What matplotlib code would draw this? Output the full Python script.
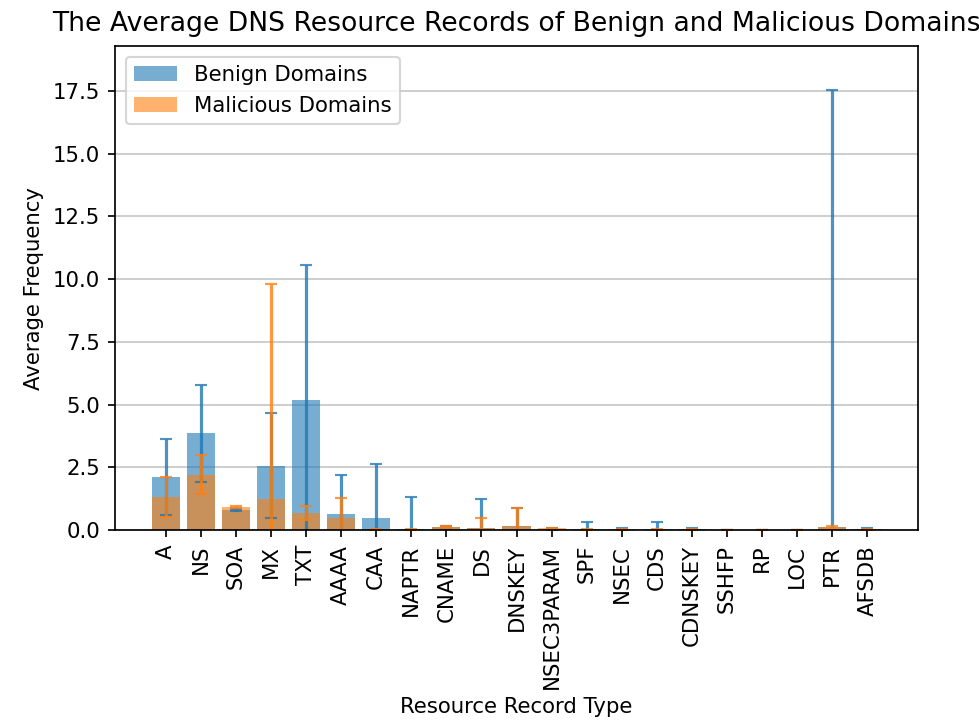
import matplotlib
matplotlib.use('Agg')
import matplotlib.pyplot as plt
import numpy as np

record_types = ['A', 'NS', 'SOA', 'MX', 'TXT', 'AAAA', 'CAA', 'NAPTR', 'CNAME', 'DS',
                'DNSKEY', 'NSEC3PARAM', 'SPF', 'NSEC', 'CDS', 'CDNSKEY', 'SSHFP', 'RP',
                'LOC', 'PTR', 'AFSDB']

# mean / std of record counts per domain
benign_mean = [2.12, 3.86, 0.80, 2.57, 5.17, 0.63, 0.48, 0.03, 0.10, 0.08,
               0.17, 0.05, 0.02, 0.03, 0.02, 0.03, 0.005, 0.003, 0.003, 0.10, 0.05]
benign_std = [1.52, 1.93, 0.03, 2.10, 5.38, 1.56, 2.14, 1.27, 0.05, 1.15,
              0.70, 0.04, 0.31, 0.03, 0.31, 0.04, 0.01, 0.01, 0.01, 17.45, 0.03]
malicious_mean = [1.33, 2.20, 0.92, 1.24, 0.69, 0.47, 0.01, 0.01, 0.12, 0.07,
                  0.15, 0.06, 0.01, 0.02, 0.01, 0.01, 0.003, 0.002, 0.002, 0.10, 0.02]
malicious_std = [0.80, 0.78, 0.03, 8.55, 0.28, 0.80, 0.02, 0.01, 0.04, 0.40,
                 0.72, 0.03, 0.01, 0.02, 0.01, 0.01, 0.005, 0.005, 0.005, 0.05, 0.02]

x = np.arange(len(record_types))

fig = plt.figure(figsize=(979 / 153, 727 / 153), dpi=153)
ax = fig.add_axes([115 / 979, 1 - 530 / 727, 803 / 979, 484 / 727])

ax.bar(x, benign_mean, yerr=benign_std, color='C0', alpha=0.6, capsize=3,
       error_kw=dict(ecolor='C0', alpha=0.8), label='Benign Domains')
ax.bar(x, malicious_mean, yerr=malicious_std, color='C1', alpha=0.6, capsize=3,
       error_kw=dict(ecolor='C1', alpha=0.8), label='Malicious Domains')

ax.set_ylim(bottom=0)
ax.set_xticks(x)
ax.set_xticklabels(record_types, rotation=90)
ax.set_xlabel('Resource Record Type')
ax.set_ylabel('Average Frequency')
ax.set_title('The Average DNS Resource Records of Benign and Malicious Domains',
             fontsize=12.5, pad=7)
ax.set_axisbelow(True)
ax.yaxis.grid(True, alpha=0.7)
ax.legend(loc='upper left')

fig.savefig('out.png', dpi=153)
